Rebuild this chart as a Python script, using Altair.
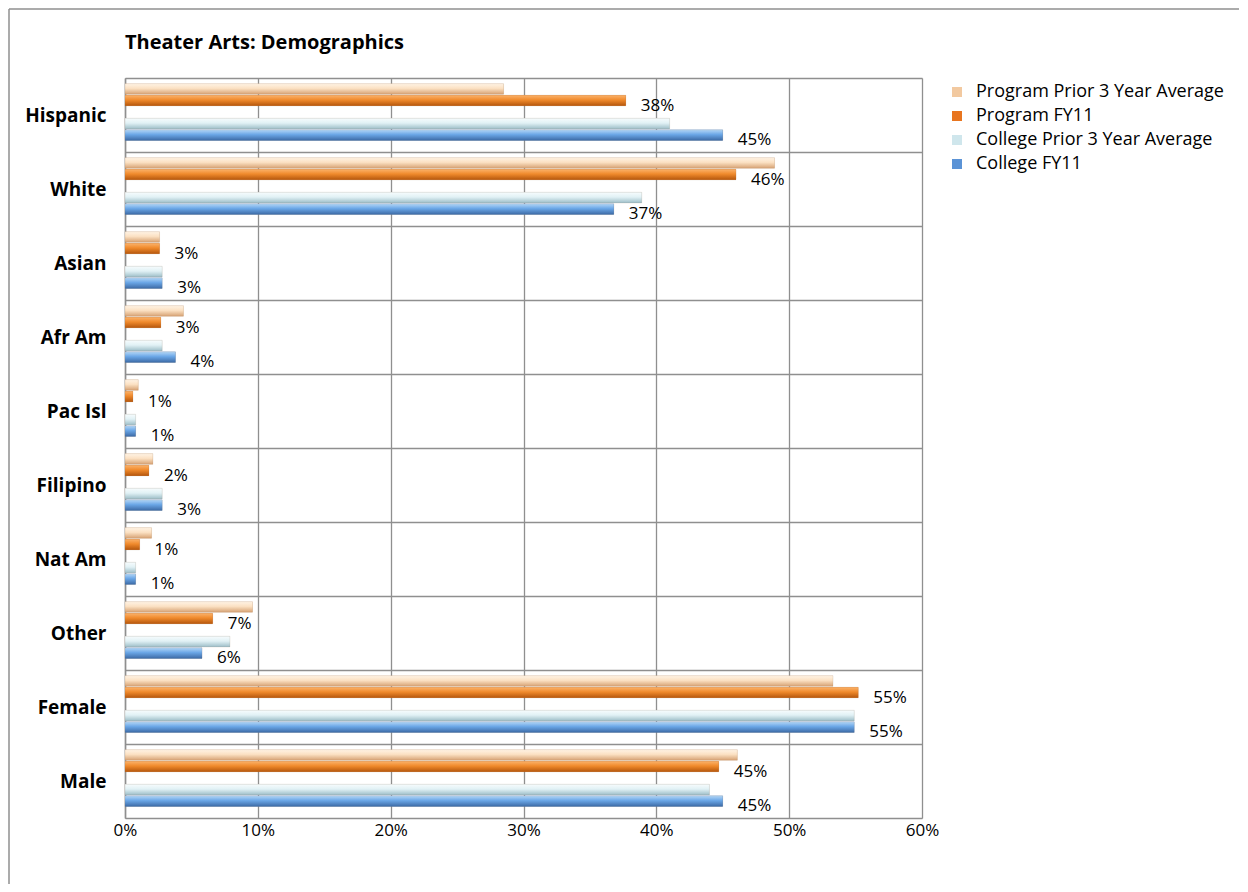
import altair as alt
import pandas as pd

categories = ["Hispanic", "White", "Asian", "Afr Am", "Pac Isl", "Filipino", "Nat Am", "Other", "Female", "Male"]
series_names = ["Program Prior 3 Year Average", "Program FY11", "College Prior 3 Year Average", "College FY11"]
prog_prior = [28.5, 48.9, 2.6, 4.4, 1.0, 2.1, 2.0, 9.6, 53.3, 46.1]
prog_fy11 = [37.7, 46.0, 2.6, 2.7, 0.6, 1.8, 1.1, 6.6, 55.2, 44.7]
coll_prior = [41.0, 38.9, 2.8, 2.8, 0.8, 2.8, 0.8, 7.9, 54.9, 44.0]
coll_fy11 = [45.0, 36.8, 2.8, 3.8, 0.8, 2.8, 0.8, 5.8, 54.9, 45.0]
labelled_series = ["Program FY11", "College FY11"]
x_ticks = [0, 10, 20, 30, 40, 50, 60]
title_text = ["Theater Arts: Demographics"]

legend_colors = ["#F2C9A0", "#E8751F", "#CFE6EC", "#5B93D6"]
gradients = [
    [("#FFF4E6", 0), ("#FBE0C2", 0.45), ("#D6A273", 1)],
    [("#FBB36B", 0), ("#F08A2C", 0.45), ("#B4560C", 1)],
    [("#F7FCFD", 0), ("#E1F1F5", 0.45), ("#9DBEC8", 1)],
    [("#B2D6F7", 0), ("#6AA6E6", 0.45), ("#3D6BA6", 1)],
]

rows = []
for s, vals in zip(series_names, [prog_prior, prog_fy11, coll_prior, coll_fy11]):
    for c, v in zip(categories, vals):
        rows.append({"category": c, "series": s, "value": v})
df = pd.DataFrame(rows)

GRID = "#8f8f8f"
FONT = "Open Sans"

offset_domain = [series_names[0], series_names[1], "gap1", series_names[2], series_names[3], "gap2"]

x_enc = alt.X("value:Q", scale=alt.Scale(domain=[0, 60], nice=False),
              axis=alt.Axis(title=None, values=x_ticks, labelExpr="datum.value + '%'",
                            grid=True, gridColor=GRID, gridWidth=1.3, ticks=False, tickSize=0,
                            domain=False, labelFont=FONT, labelFontSize=17, labelColor="#000",
                            labelPadding=4, labelFlush=False))
y_enc = alt.Y("category:N", sort=categories,
              scale=alt.Scale(paddingInner=0, paddingOuter=0),
              axis=alt.Axis(title=None, tickBand="extent", ticks=False, tickSize=0, grid=True,
                            gridColor=GRID, gridWidth=1.3, domainColor=GRID, domainWidth=1.5,
                            labelFont=FONT, labelFontWeight="bold", labelFontSize=19,
                            labelColor="#000", labelPadding=19))
yoff_enc = alt.YOffset("series:N", scale=alt.Scale(domain=offset_domain, paddingInner=0.08,
                                                    paddingOuter=0.245, align=1))

base = alt.Chart(df).mark_bar().encode(
    x=x_enc, y=y_enc, yOffset=yoff_enc,
    color=alt.Color("series:N", scale=alt.Scale(domain=series_names, range=legend_colors),
                    legend=alt.Legend(title=None, orient="none", legendX=823, legendY=5,
                                      symbolType="square", symbolSize=100, symbolStrokeWidth=0,
                                      labelFont=FONT, labelFontSize=18, labelColor="#000",
                                      labelOffset=10, rowPadding=6, padding=0, labelLimit=0)),
)

layers = [base]
for s, stops in zip(series_names, gradients):
    grad = alt.LinearGradient(gradient="linear", x1=0, x2=0, y1=0, y2=1,
                              stops=[alt.GradientStop(color=c, offset=o) for c, o in stops])
    layers.append(
        alt.Chart(df).transform_filter(alt.datum.series == s)
        .mark_bar(color=grad, stroke="#8a6a50", strokeWidth=0.3, strokeOpacity=0.5)
        .encode(x="value:Q", y=alt.Y("category:N", sort=categories), yOffset="series:N")
    )

labels = alt.Chart(df).transform_filter(
    alt.FieldOneOfPredicate(field="series", oneOf=labelled_series)
).transform_calculate(
    lbl="format(datum.value / 100, '.0%')"
).mark_text(align="left", baseline="middle", dx=15, dy=5, font=FONT, fontSize=17, color="#000").encode(
    x="value:Q", y=alt.Y("category:N", sort=categories), yOffset="series:N", text="lbl:N"
)
layers.append(labels)

title = alt.Chart(pd.DataFrame({"t": title_text})).mark_text(
    align="left", baseline="middle", font=FONT, fontSize=20, fontWeight="bold", color="#000"
).encode(x=alt.value(0), y=alt.value(-35), text="t:N")
layers.append(title)

one = pd.DataFrame({"a": [0]})
left_border = alt.Chart(one).mark_rule(color=GRID, strokeWidth=1.5).encode(
    x=alt.value(-116), y=alt.value(-69), y2=alt.value(806))
top_border = alt.Chart(one).mark_rule(color=GRID, strokeWidth=1.5).encode(
    y=alt.value(-69), x=alt.value(-116), x2=alt.value(1114))
layers += [left_border, top_border]

chart = alt.layer(*layers).properties(
    width=797, height=740, padding=0,
).configure_view(stroke=GRID, strokeWidth=1.5).configure(background="white")

chart.save("out.html", embed_options={"renderer": "svg", "actions": False})
